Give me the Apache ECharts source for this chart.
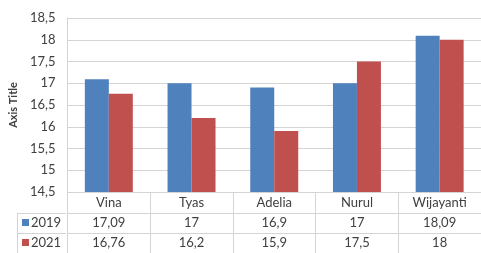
<!DOCTYPE html>
<html>
<head>
<meta charset="utf-8">
<script src="https://cdn.jsdelivr.net/npm/echarts@6/dist/echarts.min.js"></script>
<style>
  html, body { margin: 0; padding: 0; background: #fff; }
  #main { width: 481px; height: 253px; }
</style>
</head>
<body>
<div id="main"></div>
<script>
var categories = ['Vina', 'Tyas', 'Adelia', 'Nurul', 'Wijayanti'];
var values2019 = [17.09, 17, 16.9, 17, 18.09];
var values2021 = [16.76, 16.2, 15.9, 17.5, 18];
var seriesNames = ['2019', '2021'];

// angka pakai koma
function koma(v) {
    return String(v).replace('.', ',');
}

var lineColor = '#d4d4d4';
var textColor = '#404040';
var font = 'Lato';

var myChart = echarts.init(document.getElementById('main'));

var tableAxis = function (data, offset) {
    return {
        type: 'category',
        position: 'bottom',
        offset: offset,
        gridIndex: 0,
        data: data.map(koma),
        axisLine: { show: true, lineStyle: { color: lineColor } },
        axisTick: { show: true, length: 20, lineStyle: { color: lineColor } },
        axisLabel: { margin: 3, color: textColor, fontSize: 13, fontFamily: font },
        splitLine: { show: false }
    };
};

var legendRow = function (name, top) {
    return {
        left: 22,
        top: top,
        padding: 0,
        itemWidth: 7,
        itemHeight: 7,
        icon: 'rect',
        selectedMode: false,
        data: [name],
        textStyle: { color: textColor, fontSize: 13, fontFamily: font, padding: [0, 0, 0, -3] }
    };
};

var option = {
    animation: false,
    grid: { left: 66, right: 0, top: 18, bottom: 61, containLabel: false },
    legend: [
        legendRow(seriesNames[0], 216),
        legendRow(seriesNames[1], 236)
    ],
    xAxis: [
        {
            type: 'category',
            data: categories,
            axisLine: { show: true, lineStyle: { color: lineColor } },
            axisTick: { show: true, length: 21, lineStyle: { color: lineColor } },
            axisLabel: { margin: 4, color: textColor, fontSize: 13, fontFamily: font }
        },
        tableAxis(values2019, 21),
        tableAxis(values2021, 41)
    ],
    yAxis: {
        type: 'value',
        min: 14.5,
        max: 18.5,
        interval: 0.5,
        name: 'Axis Title',
        nameLocation: 'middle',
        nameGap: 32,
        nameTextStyle: { color: textColor, fontSize: 11, fontWeight: 'bold', fontFamily: font },
        axisLine: { show: true, lineStyle: { color: lineColor } },
        axisTick: { show: false },
        axisLabel: { margin: 12, color: textColor, fontSize: 13, fontFamily: font, formatter: koma },
        splitLine: { lineStyle: { color: lineColor } }
    },
    series: [
        {
            name: seriesNames[0],
            type: 'bar',
            data: values2019,
            barGap: '0%',
            barCategoryGap: '42%',
            itemStyle: { color: '#4f81bd' }
        },
        {
            name: seriesNames[1],
            type: 'bar',
            data: values2021,
            itemStyle: { color: '#c0504d' }
        }
    ],
    // garis tabel di kolom kiri
    graphic: [
        { type: 'line', shape: { x1: 17, y1: 213.5, x2: 66, y2: 213.5 }, style: { stroke: lineColor } },
        { type: 'line', shape: { x1: 17, y1: 233.5, x2: 66, y2: 233.5 }, style: { stroke: lineColor } },
        { type: 'line', shape: { x1: 17.5, y1: 213, x2: 17.5, y2: 253 }, style: { stroke: lineColor } }
    ]
};

myChart.setOption(option);
</script>
</body>
</html>
